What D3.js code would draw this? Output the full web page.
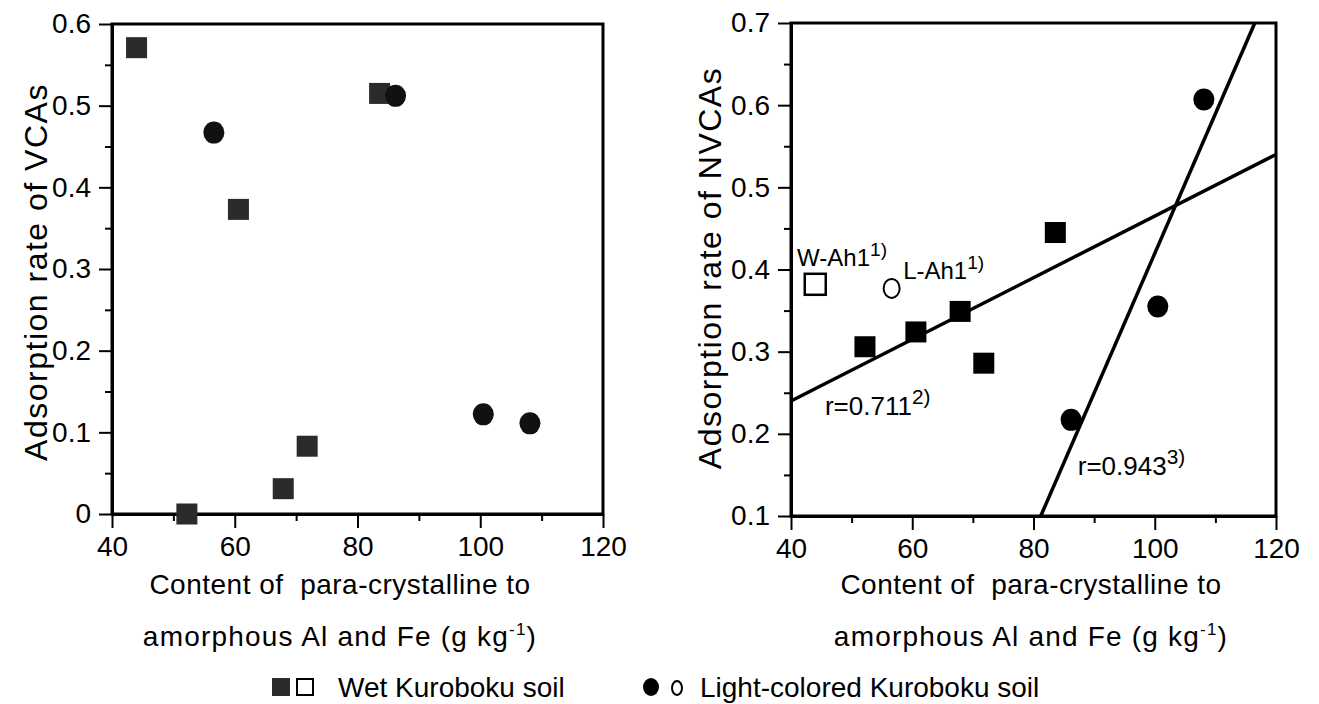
<!DOCTYPE html>
<html>
<head>
<meta charset="utf-8">
<script src="https://cdn.jsdelivr.net/npm/d3@7"></script>
<style>
  html, body { margin: 0; padding: 0; background: #fff; }
  svg { display: block; }
  text { font-family: "Liberation Sans", Arial, Helvetica, sans-serif; fill: #000; }
</style>
</head>
<body>
<svg id="chart" width="1319" height="704"></svg>
<script>
// Content of para-crystalline to amorphous Al and Fe (g/kg) per soil sample
const wetX   = [44, 52.2, 60.6, 67.9, 71.8, 83.6];   // Wet Kuroboku soil
const lightX = [56.6, 86.2, 100.5, 108.1];           // Light-colored Kuroboku soil

// Adsorption rate of VCAs
const vcaWet   = [0.571, 0.0, 0.373, 0.031, 0.083, 0.515];
const vcaLight = [0.467, 0.512, 0.122, 0.111];

// Adsorption rate of NVCAs (first sample of each soil = Ah1 horizon, drawn open)
const nvcaWet   = [0.382, 0.306, 0.324, 0.349, 0.286, 0.445];
const nvcaLight = [0.377, 0.217, 0.355, 0.607];

// Regression lines for NVCAs (end points in data units)
const wetFit   = [[40, 0.24], [120, 0.54]];
const lightFit = [[81.2, 0.1], [116.5, 0.7]];

// Tick values
const xTicks      = [40, 60, 80, 100, 120];
const xMinorTicks = [50, 70, 90, 110];
const yTicksL      = [0, 0.1, 0.2, 0.3, 0.4, 0.5, 0.6];
const yMinorTicksL = [0.05, 0.15, 0.25, 0.35, 0.45, 0.55];
const yTicksR      = [0.1, 0.2, 0.3, 0.4, 0.5, 0.6, 0.7];
const yMinorTicksR = [0.15, 0.25, 0.35, 0.45, 0.55, 0.65];

const svg = d3.select("#chart");
const FS = 28;

function panel(cfg) {
  const x = d3.scaleLinear().domain([40, 120]).range(cfg.xr);
  const y = d3.scaleLinear().domain(cfg.yd).range(cfg.yr);
  const g = svg.append("g");

  // frame
  g.append("rect")
    .attr("x", cfg.xr[0]).attr("y", cfg.yr[1])
    .attr("width", cfg.xr[1] - cfg.xr[0]).attr("height", cfg.yr[0] - cfg.yr[1])
    .attr("fill", "none").attr("stroke", "#000").attr("stroke-width", 3);

  // x axis: major + minor ticks
  g.append("g").attr("transform", `translate(0,${cfg.yr[0]})`)
    .call(d3.axisBottom(x).tickValues(xTicks).tickSize(14).tickSizeOuter(0).tickPadding(8).tickFormat(d3.format("d")));
  g.append("g").attr("transform", `translate(0,${cfg.yr[0]})`)
    .call(d3.axisBottom(x).tickValues(xMinorTicks).tickSize(7).tickSizeOuter(0).tickFormat(""));

  // y axis
  g.append("g").attr("transform", `translate(${cfg.xr[0]},0)`)
    .call(d3.axisLeft(y).tickValues(cfg.yTicks).tickSize(13).tickSizeOuter(0).tickPadding(8).tickFormat(d => d === 0 ? "0" : d3.format(".1f")(d)));
  g.append("g").attr("transform", `translate(${cfg.xr[0]},0)`)
    .call(d3.axisLeft(y).tickValues(cfg.yMinor).tickSize(7).tickSizeOuter(0).tickFormat(""));

  g.selectAll(".domain").attr("stroke-width", 3);
  g.selectAll(".tick line").attr("stroke-width", 2);
  g.selectAll(".tick text").style("font-size", FS + "px").attr("fill", "#000");

  // axis titles
  const cx = cfg.titleX;
  g.append("text").attr("x", cx).attr("y", 594).attr("text-anchor", "middle")
    .style("font-size", FS + "px").style("letter-spacing", "0.5px")
    .text("Content of \u00a0para-crystalline to");
  const t2 = g.append("text").attr("x", cx).attr("y", 646).attr("text-anchor", "middle")
    .style("font-size", FS + "px").style("letter-spacing", "1.2px");
  t2.append("tspan").text("amorphous Al and Fe (g kg");
  t2.append("tspan").attr("dy", -11).style("font-size", "17px").text("-1");
  t2.append("tspan").attr("dy", 11).text(")");

  g.append("text")
    .attr("transform", `translate(${cfg.ytX},${cfg.ytY}) rotate(-90)`)
    .attr("text-anchor", "middle")
    .style("font-size", "32px").style("letter-spacing", "1.5px")
    .text(cfg.yTitle);

  return { g, x, y };
}

// ---- Left panel: VCAs
const L = panel({
  xr: [112, 603], yd: [0, 0.6], yr: [514, 24],
  yTicks: yTicksL, yMinor: yMinorTicksL,
  titleX: 340, ytX: 47, ytY: 272, yTitle: "Adsorption rate of VCAs"
});

const SQ = 21, CR = 10.5;

L.g.selectAll("rect.wet").data(wetX.map((v, i) => [v, vcaWet[i]])).join("rect")
  .attr("class", "wet")
  .attr("x", d => L.x(d[0]) - SQ / 2).attr("y", d => L.y(d[1]) - SQ / 2)
  .attr("width", SQ).attr("height", SQ).attr("fill", "#2b2b2b");
L.g.selectAll("ellipse.light").data(lightX.map((v, i) => [v, vcaLight[i]])).join("ellipse")
  .attr("class", "light")
  .attr("cx", d => L.x(d[0])).attr("cy", d => L.y(d[1]))
  .attr("rx", CR).attr("ry", CR + 0.5).attr("fill", "#111");

// ---- Right panel: NVCAs
const R = panel({
  xr: [791, 1276], yd: [0.1, 0.7], yr: [516, 23],
  yTicks: yTicksR, yMinor: yMinorTicksR,
  titleX: 1031, ytX: 721, ytY: 268, yTitle: "Adsorption rate of NVCAs"
});

const line = d3.line().x(d => R.x(d[0])).y(d => R.y(d[1]));
[wetFit, lightFit].forEach(f => {
  R.g.append("path").attr("d", line(f)).attr("fill", "none")
    .attr("stroke", "#000").attr("stroke-width", 3.5);
});

const wetPts = wetX.map((v, i) => ({ x: v, y: nvcaWet[i], open: i === 0 }));
const lightPts = lightX.map((v, i) => ({ x: v, y: nvcaLight[i], open: i === 0 }));

R.g.selectAll("rect.wet").data(wetPts).join("rect")
  .attr("class", "wet")
  .attr("x", d => R.x(d.x) - SQ / 2).attr("y", d => R.y(d.y) - SQ / 2)
  .attr("width", SQ).attr("height", SQ)
  .attr("fill", d => d.open ? "#fff" : "#000")
  .attr("stroke", "#000").attr("stroke-width", d => d.open ? 2.5 : 0);
R.g.selectAll("ellipse.light").data(lightPts).join("ellipse")
  .attr("class", "light")
  .attr("cx", d => R.x(d.x)).attr("cy", d => R.y(d.y))
  .attr("rx", d => d.open ? 8 : CR).attr("ry", d => d.open ? 9.5 : CR + 0.5)
  .attr("fill", d => d.open ? "#fff" : "#000")
  .attr("stroke", "#000").attr("stroke-width", d => d.open ? 2 : 0);

// annotations
function supLabel(g, x, y, main, sup, size) {
  const t = g.append("text").attr("x", x).attr("y", y).style("font-size", size + "px");
  t.append("tspan").text(main);
  t.append("tspan").attr("dy", -size * 0.42).style("font-size", (size * 0.8) + "px").text(sup);
  return t;
}
supLabel(R.g, R.x(41.0), R.y(0.404), "W-Ah1", "1)", 24);
supLabel(R.g, R.x(58.5), R.y(0.388), "L-Ah1", "1)", 24);
supLabel(R.g, R.x(45.6), R.y(0.223), "r=0.711", "2)", 26);
supLabel(R.g, R.x(87.3), R.y(0.150), "r=0.943", "3)", 26);

// ---- Legend
const lg = svg.append("g");
const ly = 687;
lg.append("rect").attr("x", 272).attr("y", ly - 9).attr("width", 18).attr("height", 18).attr("fill", "#2b2b2b");
lg.append("rect").attr("x", 297).attr("y", ly - 8).attr("width", 16).attr("height", 16)
  .attr("fill", "#fff").attr("stroke", "#000").attr("stroke-width", 2);
lg.append("text").attr("x", 338).attr("y", ly + 10).style("font-size", FS + "px").text("Wet Kuroboku soil");
lg.append("ellipse").attr("cx", 651).attr("cy", ly).attr("rx", 8).attr("ry", 9).attr("fill", "#000");
lg.append("ellipse").attr("cx", 677).attr("cy", ly + 1).attr("rx", 5).attr("ry", 7)
  .attr("fill", "none").attr("stroke", "#000").attr("stroke-width", 2);
lg.append("text").attr("x", 700).attr("y", ly + 10).style("font-size", FS + "px").text("Light-colored Kuroboku soil");
</script>
</body>
</html>
